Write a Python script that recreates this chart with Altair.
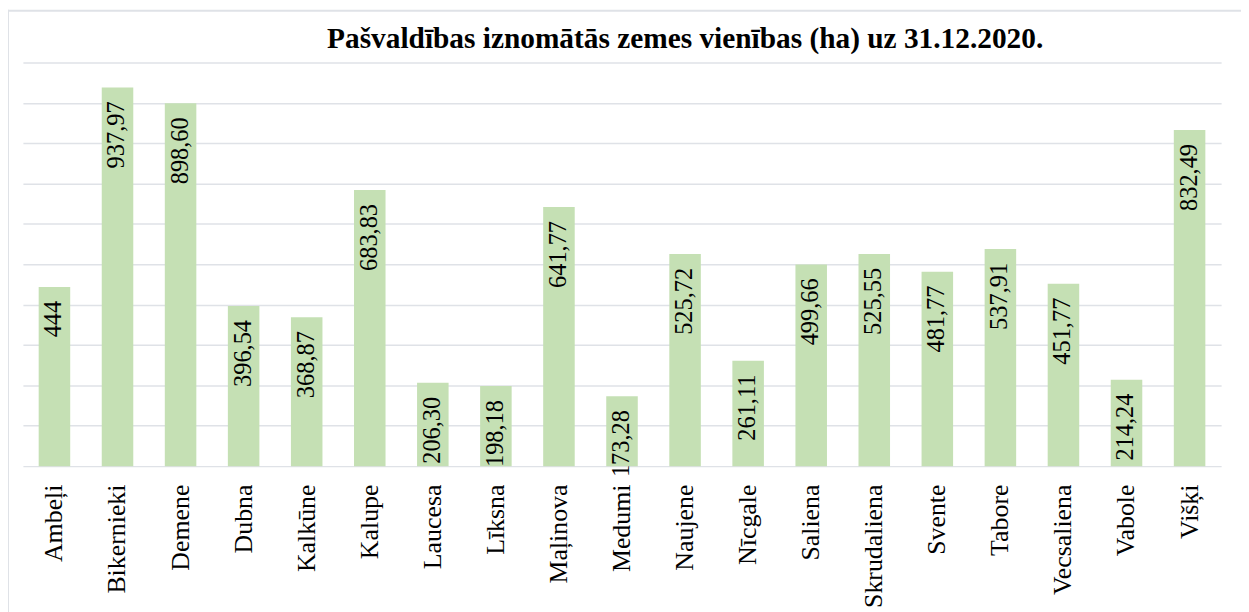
import altair as alt
import pandas as pd

categories = ["Ambeļi", "Bikernieki", "Demene", "Dubna", "Kalkūne", "Kalupe", "Laucesa",
              "Līksna", "Maļinova", "Medumi", "Naujene", "Nīcgale", "Saliena", "Skrudaliena",
              "Svente", "Tabore", "Vecsaliena", "Vabole", "Višķi"]
values = [444, 937.97, 898.60, 396.54, 368.87, 683.83, 206.30, 198.18, 641.77, 173.28,
          525.72, 261.11, 499.66, 525.55, 481.77, 537.91, 451.77, 214.24, 832.49]
labels = ["444", "937,97", "898,60", "396,54", "368,87", "683,83", "206,30", "198,18",
          "641,77", "173,28", "525,72", "261,11", "499,66", "525,55", "481,77", "537,91",
          "451,77", "214,24", "832,49"]
title_text = "Pašvaldības iznomātās zemes vienības (ha) uz 31.12.2020."

df = pd.DataFrame({"cat": categories, "val": values, "lab": labels})

SERIF = "Liberation Serif, Times New Roman, DejaVu Serif, serif"
GRID = "#dfe2e7"

x = alt.X("cat:N", sort=categories, title=None,
          scale=alt.Scale(paddingInner=0.5, paddingOuter=0.25),
          axis=alt.Axis(labelAngle=-90, labelAlign="right", labelBaseline="middle",
                        labelFont=SERIF, labelFontSize=26, labelColor="#000000",
                        labelPadding=18, ticks=False, domain=False, grid=False,
                        labelOverlap=False, labelLimit=400))
y = alt.Y("val:Q", title=None, scale=alt.Scale(domain=[0, 1000], nice=False),
          axis=alt.Axis(values=list(range(0, 1001, 100)), labels=False, ticks=False,
                        domain=False, grid=True, gridColor=GRID, gridWidth=1.5))

base = alt.Chart(df)
bars = base.mark_bar(color="#c5e0b4").encode(x=x, y=y)
text = base.mark_text(angle=270, align="right", baseline="middle", dx=-14,
                      font=SERIF, fontSize=24.5, color="#000000").encode(
    x=alt.X("cat:N", sort=categories), y=alt.Y("val:Q"), text="lab:N")

one = pd.DataFrame({"a": [0]})
left_line = alt.Chart(one).mark_rule(color=GRID, strokeWidth=2).encode(
    x=alt.value(-15), y=alt.value(-53), y2=alt.value(600))
top_line = alt.Chart(one).mark_rule(color=GRID, strokeWidth=2).encode(
    y=alt.value(-52), x=alt.value(-15), x2=alt.value(1240))
title = alt.Chart(one).mark_text(font=SERIF, fontSize=29.5, fontWeight="bold",
                                 color="#000000", align="center",
                                 baseline="alphabetic").encode(
    x=alt.value(666), y=alt.value(-14), text=alt.value(title_text))

chart = alt.layer(bars, text, left_line, top_line, title).properties(
    width=1205, height=406,
    autosize=alt.AutoSizeParams(type="none"),
    padding={"left": 15, "top": 53, "right": 20, "bottom": 150},
).configure_view(stroke=None)

chart.save("out.html", embed_options={"renderer": "svg", "actions": False})
